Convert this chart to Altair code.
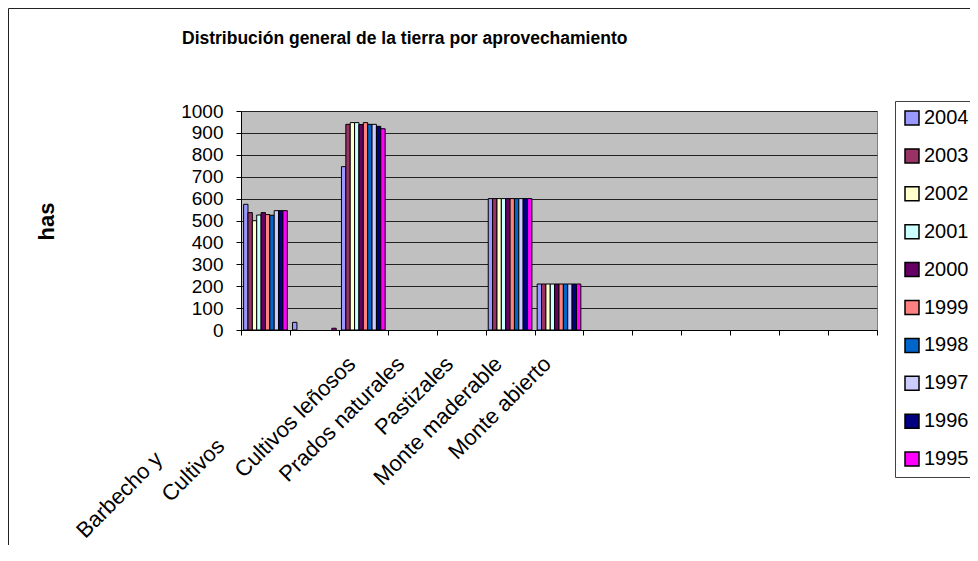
import altair as alt
import pandas as pd

# ---- data ----
years = ["2004", "2003", "2002", "2001", "2000", "1999", "1998", "1997", "1996", "1995"]
colors = ["#9999FF", "#993366", "#FFFFCC", "#CCFFFF", "#660066",
          "#FF8080", "#0066CC", "#CCCCFF", "#000080", "#FF00FF"]
categories = ["Barbecho y", "Cultivos", "Cultivos leñosos", "Prados naturales",
              "Pastizales", "Monte maderable", "Monte abierto",
              "#8", "#9", "#10", "#11", "#12", "#13"]

# values per category, in the order of `years`
barbecho = [574, 536, 499, 525, 536, 527, 524, 545, 545, 545]
cultivos = [35, 0, 0, 0, 0, 0, 0, 0, 0, 8]
lenosos = [746, 939, 947, 947, 938, 947, 939, 939, 930, 919]
prados = [0, 0, 0, 0, 0, 0, 0, 0, 0, 0]
pastizales = [0, 0, 0, 0, 0, 0, 0, 0, 0, 0]
maderable = [600, 600, 600, 600, 600, 600, 600, 600, 600, 600]
abierto = [210, 210, 210, 210, 210, 210, 210, 210, 210, 210]

y_ticks = [0, 100, 200, 300, 400, 500, 600, 700, 800, 900, 1000]

series = {
    "Barbecho y": barbecho,
    "Cultivos": cultivos,
    "Cultivos leñosos": lenosos,
    "Prados naturales": prados,
    "Pastizales": pastizales,
    "Monte maderable": maderable,
    "Monte abierto": abierto,
}
rows = []
for cat, vals in series.items():
    for yr, v in zip(years, vals):
        if v > 0:
            rows.append({"categoria": cat, "anio": yr, "valor": v})
df = pd.DataFrame(rows)

FONT = "Liberation Sans"
W, H = 636, 219
PL, PT, PR, PB = 233, 103, 93, 215

# the first two labels are partly hidden in the reference: keep their visible
# part where it appears, with an invisible tail (nbsp + zero-width space)
pad1 = "\u00a0" * 22 + "\u200b"
pad2 = "\u00a0" * 19 + "\u200b"
label_expr = (
    f"datum.label == 'Barbecho y' ? 'Barbecho y{pad1}' : "
    f"datum.label == 'Cultivos' ? 'Cultivos{pad2}' : "
    "indexof(datum.label, '#') == 0 ? '' : datum.label"
)

bars = alt.Chart(df).mark_bar(stroke="black", strokeWidth=1).encode(
    x=alt.X(
        "categoria:N",
        sort=categories,
        scale=alt.Scale(domain=categories, paddingInner=0, paddingOuter=0),
        axis=alt.Axis(
            title=None,
            labelAngle=-45,
            labelAlign="right",
            labelBaseline="middle",
            labelPadding=25,
            labelOffset=-12,
            labelFontSize=22,
            labelFont=FONT,
            labelColor="black",
            labelOverlap=False,
            labelLimit=0,
            labelExpr=label_expr,
            tickBand="extent",
            tickSize=5,
            tickColor="black",
            domainColor="black",
            grid=False,
        ),
    ),
    xOffset=alt.XOffset(
        "anio:N",
        sort=years,
        scale=alt.Scale(domain=years, paddingInner=0, paddingOuter=0.6),
    ),
    y=alt.Y(
        "valor:Q",
        scale=alt.Scale(domain=[0, 1000], nice=False),
        axis=alt.Axis(
            title="has",
            titleFont=FONT,
            titleFontSize=22,
            titleFontWeight="bold",
            titleColor="black",
            titleX=-195,
            titleY=110,
            titleAngle=-90,
            titleAlign="center",
            titleBaseline="middle",
            values=y_ticks,
            format="d",
            labelFontSize=19,
            labelFont=FONT,
            labelColor="black",
            labelPadding=13,
            tickSize=5,
            tickColor="black",
            domainColor="black",
            grid=True,
            gridColor="#222222",
            gridWidth=1,
        ),
    ),
    color=alt.Color(
        "anio:N",
        sort=years,
        scale=alt.Scale(domain=years, range=colors),
        legend=alt.Legend(
            title=None,
            orient="none",
            legendX=654,
            legendY=-10,
            symbolType="square",
            symbolSize=196,
            symbolStrokeColor="black",
            symbolStrokeWidth=1.5,
            labelFontSize=20,
            labelFont=FONT,
            labelColor="black",
            labelOffset=2,
            rowPadding=17.9,
            padding=7,
            strokeColor="#404040",
            fillColor="white",
        ),
    ),
)

frame_df = pd.DataFrame({"k": [0]})
frame_left = alt.Chart(frame_df).mark_rule(color="#222222", strokeWidth=1).encode(
    x=alt.value(-PL + 0.5), y=alt.value(-PT + 0.5), y2=alt.value(H + PB)
)
frame_top = alt.Chart(frame_df).mark_rule(color="#222222", strokeWidth=1).encode(
    x=alt.value(-PL + 0.5), x2=alt.value(W + PR), y=alt.value(-PT + 0.5)
)

chart = alt.layer(bars, frame_left, frame_top).properties(
    width=W,
    height=H,
    autosize="none",
    padding={"left": PL, "top": PT, "right": PR, "bottom": PB},
    title=alt.TitleParams(
        "Distribución general de la tierra por aprovechamiento",
        font=FONT,
        fontSize=17.5,
        fontWeight="bold",
        color="black",
        anchor="start",
        frame="group",
        baseline="alphabetic",
        dx=-59,
        offset=-53,
    ),
).configure_view(
    fill="#C0C0C0", stroke="#808080", strokeWidth=1
)

chart.save("out.html", embed_options={"renderer": "svg", "actions": False})
